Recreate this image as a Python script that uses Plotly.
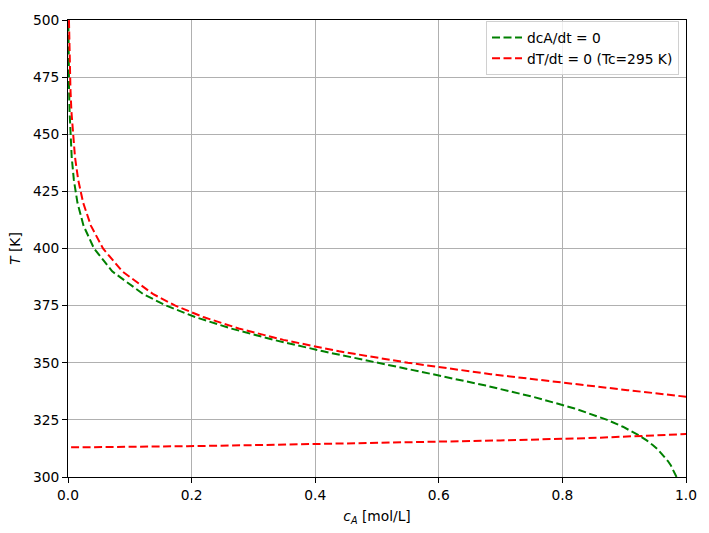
import plotly.graph_objects as go

# dcA/dt = 0 nullcline: temperature [K] and concentration [mol/L]
T_green = [300, 302, 305, 307, 310, 312, 314, 315, 316, 318, 320, 322, 325, 330, 335, 340,
           345, 350, 355, 360, 365, 370, 375, 380, 390, 400, 410, 420, 430, 440,
           450, 460, 470, 480, 490, 500]
cA_green = [0.9847, 0.9815, 0.9756, 0.9707, 0.9618, 0.9545, 0.9461, 0.9415, 0.9364, 0.9252,
            0.9124, 0.8979, 0.8725, 0.8198, 0.7539, 0.6760, 0.5896, 0.5000, 0.4129,
            0.3331, 0.2636, 0.2056, 0.1589, 0.1220, 0.0715, 0.0421, 0.0251, 0.0153,
            0.00946, 0.00598, 0.00385, 0.00253, 0.00169, 0.00115, 0.00079, 0.00055]

# dT/dt = 0 nullcline (Tc = 295 K)
T_red = [310, 312.5, 313, 313.5, 314, 315, 316, 317, 318, 319, 320, 322, 325, 330, 334,
         335, 336, 338, 340, 345, 350, 355, 360, 365, 370, 375, 380, 390, 400, 410,
         420, 430, 440, 450, 460, 470, 480, 490, 500]
cA_red = [-1.037, -0.0854, 0.0603, 0.1934, 0.3148, 0.5260, 0.6994, 0.8403, 0.9533, 1.0424,
          1.1108, 1.1971, 1.2350, 1.1576, 1.0385, 1.0056, 0.9723, 0.9053, 0.8390,
          0.6840, 0.5500, 0.4387, 0.3485, 0.2762, 0.2189, 0.1737, 0.1380, 0.08787,
          0.05663, 0.03703, 0.02457, 0.01654, 0.01131, 0.00784, 0.00551, 0.00393,
          0.00283, 0.00207, 0.00153]

x_ticks = [0.0, 0.2, 0.4, 0.6, 0.8, 1.0]
y_ticks = [300, 325, 350, 375, 400, 425, 450, 475, 500]

FS = 13.8

fig = go.Figure()
fig.add_trace(go.Scatter(x=cA_green, y=T_green, mode="lines", name="dcA/dt = 0",
                         line=dict(color="green", width=2, dash="8px,3.5px")))
fig.add_trace(go.Scatter(x=cA_red, y=T_red, mode="lines", name="dT/dt = 0 (Tc=295 K)",
                         line=dict(color="red", width=2, dash="8px,3.5px")))

axis_common = dict(showline=True, linecolor="black", linewidth=1, mirror=True,
                   ticks="outside", ticklen=5, tickcolor="black", showgrid=True,
                   gridcolor="#b0b0b0", gridwidth=1, zeroline=False,
                   tickfont=dict(family="DejaVu Sans", size=FS, color="black"))

fig.update_layout(
    width=709, height=533,
    margin=dict(l=68, r=21, t=15, b=56),
    plot_bgcolor="white", paper_bgcolor="white",
    font=dict(family="DejaVu Sans", size=FS, color="black"),
    xaxis=dict(range=[0, 1], tickvals=x_ticks, ticktext=[f"{v:.1f}" for v in x_ticks],
               title=dict(text="<i>c</i><sub><i>A</i></sub> [mol/L]", standoff=9,
                          font=dict(family="DejaVu Sans", size=FS)),
               **axis_common),
    yaxis=dict(range=[300, 500], tickvals=y_ticks, ticktext=[str(v) for v in y_ticks],
               title=dict(text="<i>T</i> [K]", standoff=9,
                          font=dict(family="DejaVu Sans", size=FS)),
               **axis_common),
    legend=dict(x=0.9887, y=0.998, xanchor="right", yanchor="top",
                bgcolor="rgba(255,255,255,0.8)", bordercolor="#d0d0d0", borderwidth=1,
                font=dict(family="DejaVu Sans", size=FS)),
    showlegend=True,
)

fig.write_html("out.html")
